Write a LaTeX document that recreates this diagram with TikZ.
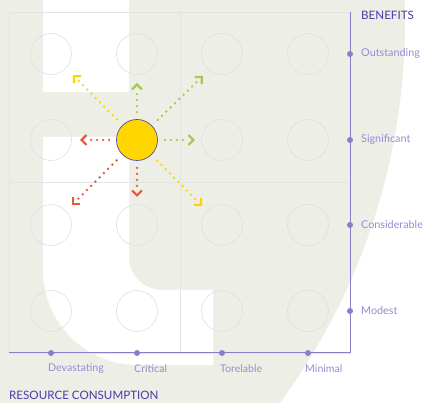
\documentclass[tikz,border=0pt]{standalone}
\usepackage{fontspec}
\setmainfont{Lato}
\usetikzlibrary{arrows.meta,calc}
\definecolor{bggreen}{RGB}{237,239,231}
\definecolor{gridgray}{RGB}{227,229,229}
\definecolor{ringgray}{RGB}{221,222,232}
\definecolor{axispurple}{RGB}{137,125,204}
\definecolor{labelpurple}{RGB}{150,140,212}
\definecolor{titlepurple}{RGB}{72,58,170}
\definecolor{sunyellow}{RGB}{255,214,0}
\definecolor{sunedge}{RGB}{88,78,160}
\definecolor{raygreen}{RGB}{168,200,80}
\definecolor{rayred}{RGB}{232,88,58}
\definecolor{rayyellow}{RGB}{255,210,0}

\begin{document}
\begin{tikzpicture}[x=1pt,y=-1pt]
	\def \colone{51}
	\def \coltwo{137}
	\def \colthree{222}
	\def \colfour{308}
	\def \rowone{54}
	\def \rowtwo{140}
	\def \rowthree{225}
	\def \rowfour{311}
	\def \axisx{350}
	\def \axisy{353}
	\tikzstyle{ring}=[circle,draw=ringgray,line width=0.6pt,minimum size=41pt,inner sep=0pt]
	\tikzstyle{tick}=[circle,fill=axispurple,minimum size=6pt,inner sep=0pt]
	\tikzstyle{vlabel}=[anchor=west,inner sep=0pt,text=labelpurple,font=\fontsize{10.8}{11}\selectfont]
	\tikzstyle{hlabel}=[anchor=west,inner sep=0pt,text=labelpurple,font=\fontsize{10.6}{11}\selectfont]
	\tikzstyle{title}=[anchor=west,inner sep=0pt,text=titlepurple,font=\fontsize{11.6}{12}\selectfont]
	\tikzstyle{sun}=[circle,fill=sunyellow,draw=sunedge,line width=0.7pt,minimum size=41pt,inner sep=0pt]
	\tikzstyle{ray}=[line width=2.6pt,line cap=round,dash pattern=on 0pt off 6pt]
	\tikzstyle{straight}=[ray,shorten <=7pt,shorten >=9pt]
	\tikzstyle{diagonal}=[ray,shorten <=8pt,shorten >=8pt]
	\tikzstyle{barb}=[line width=2.2pt,-{Straight Barb[angle=90:7pt,sharp]}]
	\useasboundingbox (0,0) rectangle (424,403);

	% backdrop
	\fill[white] (0,0) rectangle (424,403);
	\begin{scope}
		\clip (0,0) rectangle (424,403);
		\fill[bggreen] (-240,21) circle[radius=645pt];
	\end{scope}
	\fill[white] (43,0) rectangle (129,92);
	\fill[white] (43,137) -- (129,137) [rounded corners=33pt] -- (129,290)
		[sharp corners] -- (213,290) -- (213,365) [rounded corners=95pt] -- (43,365)
		[sharp corners] -- cycle;

	% grid
	\draw[gridgray,line width=0.5pt] (9,12) rectangle (\axisx,\axisy);
	\draw[gridgray,line width=0.5pt] (180,12) -- (180,\axisy);
	\draw[gridgray,line width=0.5pt] (9,182) -- (\axisx,182);
	\foreach \c in {\colone,\coltwo,\colthree,\colfour}
		\foreach \r in {\rowone,\rowtwo,\rowthree,\rowfour}
			\node[ring] at (\c,\r) {};

	% axes
	\coordinate (origin) at (9,\axisy);
	\coordinate (corner) at (\axisx,\axisy);
	\coordinate (top) at (\axisx,12);
	\draw[axispurple,line width=1pt] (origin) -- (corner) -- (top);

	% benefits
	\node[tick] (b1) at (\axisx,\rowone) {};
	\node[tick] (b2) at (\axisx,\rowtwo) {};
	\node[tick] (b3) at (\axisx,\rowthree) {};
	\node[tick] (b4) at (\axisx,\rowfour) {};
	\node[vlabel] (lb1) at (361,\rowone) {Outstanding};
	\node[vlabel] (lb2) at (361,\rowtwo) {Significant};
	\node[vlabel] (lb3) at (361,\rowthree) {Considerable};
	\node[vlabel] (lb4) at (361,\rowfour) {Modest};
	\node[title] (benefits) at (361,15) {BENEFITS};

	% resource consumption
	\node[tick] (c1) at (\colone,\axisy) {};
	\node[tick] (c2) at (\coltwo,\axisy) {};
	\node[tick] (c3) at (\colthree,\axisy) {};
	\node[tick] (c4) at (\colfour,\axisy) {};
	\node[hlabel] (lc1) at (48,369) {Devastating};
	\node[hlabel] (lc2) at (134,369) {Critical};
	\node[hlabel] (lc3) at (220,369) {Torelable};
	\node[hlabel] (lc4) at (305,369) {Minimal};
	\node[title] (consumption) at (9,395) {RESOURCE CONSUMPTION};

	% sun and rays
	\node[sun] (sun) at (\coltwo,\rowtwo) {};
	\coordinate (tn) at (137,83);
	\coordinate (te) at (195,140);
	\coordinate (ts) at (137,197);
	\coordinate (tw) at (80,140);
	\coordinate (tne) at (203,76);
	\coordinate (tnw) at (73,75);
	\coordinate (tsw) at (72,205);
	\coordinate (tse) at (202,206);

	\path
		(sun)	edge[straight,raygreen]		(tn)
		(sun)	edge[straight,raygreen]		(te)
		(sun)	edge[diagonal,raygreen]		(tne)
		%
		(sun)	edge[straight,rayred]		(tw)
		(sun)	edge[straight,rayred]		(ts)
		(sun)	edge[diagonal,rayred]		(tsw)
		%
		(sun)	edge[diagonal,rayyellow]	(tnw)
		(sun)	edge[diagonal,rayyellow]	(tse);

	% chevrons at the ray ends
	\draw[barb,raygreen] ($(tn)!1pt!(sun)$) -- (tn);
	\draw[barb,raygreen] ($(te)!1pt!(sun)$) -- (te);
	\draw[barb,raygreen] ($(tne)!1pt!(sun)$) -- (tne);
	\draw[barb,rayred] ($(tw)!1pt!(sun)$) -- (tw);
	\draw[barb,rayred] ($(ts)!1pt!(sun)$) -- (ts);
	\draw[barb,rayred] ($(tsw)!1pt!(sun)$) -- (tsw);
	\draw[barb,rayyellow] ($(tnw)!1pt!(sun)$) -- (tnw);
	\draw[barb,rayyellow] ($(tse)!1pt!(sun)$) -- (tse);
\end{tikzpicture}
\end{document}
